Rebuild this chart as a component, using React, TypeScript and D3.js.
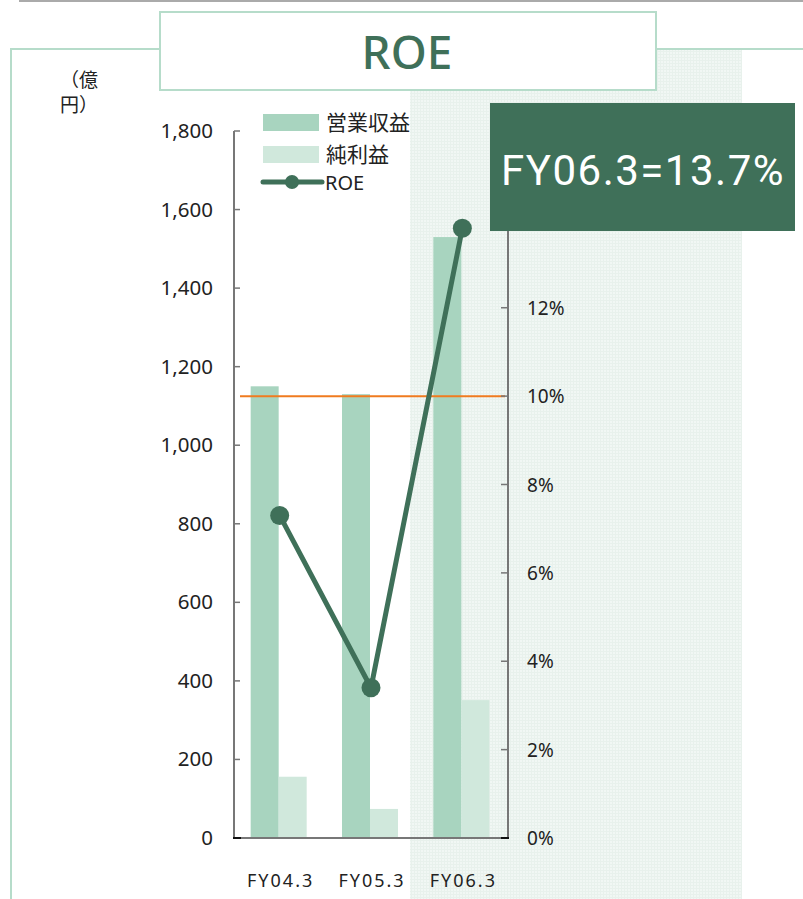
import React from "react";
import * as d3 from "d3";

const categories = ["FY04.3", "FY05.3", "FY06.3"];
const revenue = [1150, 1130, 1530];
const netIncome = [156, 74, 351];
const roe = [7.3, 3.4, 13.8];
const leftTicks = [0, 200, 400, 600, 800, 1000, 1200, 1400, 1600, 1800];
const rightTicks = [0, 2, 4, 6, 8, 10, 12, 14, 16];
const targetRoe = 10;
const seriesNames = ["営業収益", "純利益", "ROE"];
const title = "ROE";
const highlight = "FY06.3=13.7%";

const W = 803, H = 899;
const x0 = 234, x1 = 508, yBottom = 838, yTop = 131;
const FONT = "'Noto Sans CJK JP', 'Noto Sans', sans-serif";
const C_DARK = "#3f7059";
const C_REV = "#a8d4bf";
const C_NET = "#d0e8dc";
const C_FRAME = "#b6dcca";

export default function App() {
  const xBand = d3.scaleBand<string>().domain(categories).range([x0, x1]).padding(0);
  const yL = d3.scaleLinear().domain([0, 1800]).range([yBottom, yTop]);
  const yR = d3.scaleLinear().domain([0, 16]).range([yBottom, yTop]);
  const cx = (c: string) => (xBand(c) as number) + xBand.bandwidth() / 2;
  const barW = 28;
  const line = d3.line<number>().x((_, i) => cx(categories[i])).y((d) => yR(d));

  return (
    <svg width={W} height={H} style={{ position: "absolute", left: 0, top: 0 }} fontFamily={FONT}>
      <defs>
        <pattern id="grid" width="3" height="3" patternUnits="userSpaceOnUse">
          <rect width="3" height="3" fill="#f1f7f4" />
          <path d="M0 0.5H3M0.5 0V3" stroke="#e8f1ec" strokeWidth="1" />
        </pattern>
      </defs>
      <rect width={W} height={H} fill="#fff" />
      <line x1={19} x2={W} y1={1} y2={1} stroke="#aaa" strokeWidth={2} />
      {/* shaded panel */}
      <rect x={410} y={50} width={332} height={H - 50} fill="url(#grid)" />
      {/* frame */}
      <path d={`M11 ${H} V49 H160 M656 49 H${W}`} fill="none" stroke={C_FRAME} strokeWidth={2} />
      <rect x={160} y={12} width={496} height={78} fill="#fff" stroke={C_FRAME} strokeWidth={2} />
      <text x={407} y={69} textAnchor="middle" fontSize={46} fontWeight={500} fill={C_DARK} fontFamily="'Noto Sans', 'Open Sans', sans-serif">{title}</text>

      {/* unit */}
      <text x={60} y={87} fontSize={19} fill="#222">（億</text>
      <text x={60} y={112} fontSize={19} fill="#222">円）</text>

      {/* bars */}
      {categories.map((c, i) => (
        <g key={c}>
          <rect x={cx(c) - barW - 1} y={yL(revenue[i])} width={barW} height={yBottom - yL(revenue[i])} fill={C_REV} />
          <rect x={cx(c) - 1} y={yL(netIncome[i])} width={barW} height={yBottom - yL(netIncome[i])} fill={C_NET} />
        </g>
      ))}

      {/* target line */}
      <line x1={240} x2={505} y1={yR(targetRoe)} y2={yR(targetRoe)} stroke="#f07b1f" strokeWidth={2} />

      {/* axes */}
      <line x1={x0} x2={x0} y1={yTop} y2={yBottom} stroke="#777" strokeWidth={2} />
      <line x1={x1} x2={x1} y1={yTop} y2={yBottom} stroke="#777" strokeWidth={2} />
      <line x1={x0 - 1} x2={x1 + 1} y1={yBottom} y2={yBottom} stroke="#777" strokeWidth={2} />
      <line x1={x0 - 1} x2={x0 + 7} y1={yBottom} y2={yBottom} stroke="#111" strokeWidth={2} />
      <line x1={x1 - 7} x2={x1 + 1} y1={yBottom} y2={yBottom} stroke="#111" strokeWidth={2} />
      {leftTicks.map((t) => (
        <g key={t}>
          {t > 0 && <line x1={x0} x2={x0 + 6} y1={yL(t)} y2={yL(t)} stroke="#777" strokeWidth={1.5} />}
          <text x={213} y={yL(t) + 7} textAnchor="end" fontSize={20.5} fill="#222" fontFamily="'Noto Sans', sans-serif">{d3.format(",")(t)}</text>
        </g>
      ))}
      {rightTicks.map((t) => (
        <g key={t}>
          {t > 0 && <line x1={x1 - 7} x2={x1} y1={yR(t)} y2={yR(t)} stroke="#777" strokeWidth={1.5} />}
          <text x={527} y={yR(t) + 7} fontSize={19} fill="#222" fontFamily="'Noto Sans', sans-serif">{t}%</text>
        </g>
      ))}
      {categories.map((c) => (
        <text key={c} x={cx(c) + 1} y={887} textAnchor="middle" fontSize={18} letterSpacing={2} fill="#222" fontFamily="'Noto Sans', sans-serif">{c}</text>
      ))}

      {/* ROE line */}
      <path d={line(roe) || ""} fill="none" stroke={C_DARK} strokeWidth={5} />
      {roe.map((v, i) => (
        <circle key={i} cx={cx(categories[i])} cy={yR(v)} r={9.5} fill={C_DARK} />
      ))}

      {/* legend */}
      <rect x={263} y={114} width={56} height={17} fill={C_REV} />
      <text x={326} y={130} fontSize={21} fill="#222">{seriesNames[0]}</text>
      <rect x={263} y={146} width={56} height={17} fill={C_NET} />
      <text x={326} y={162} fontSize={21} fill="#222">{seriesNames[1]}</text>
      <line x1={263} x2={322} y1={182} y2={182} stroke={C_DARK} strokeWidth={5} strokeLinecap="round" />
      <circle cx={292} cy={182} r={7} fill={C_DARK} />
      <text x={325} y={190} fontSize={20} fill="#222" fontFamily="'Noto Sans', sans-serif">{seriesNames[2]}</text>

      {/* highlight box */}
      <rect x={490} y={103} width={305} height={128} fill={C_DARK} />
      <text x={643} y={185} textAnchor="middle" fontSize={42} fill="#fff" letterSpacing={1.5} fontFamily="Roboto, 'Noto Sans', sans-serif">{highlight}</text>
    </svg>
  );
}
